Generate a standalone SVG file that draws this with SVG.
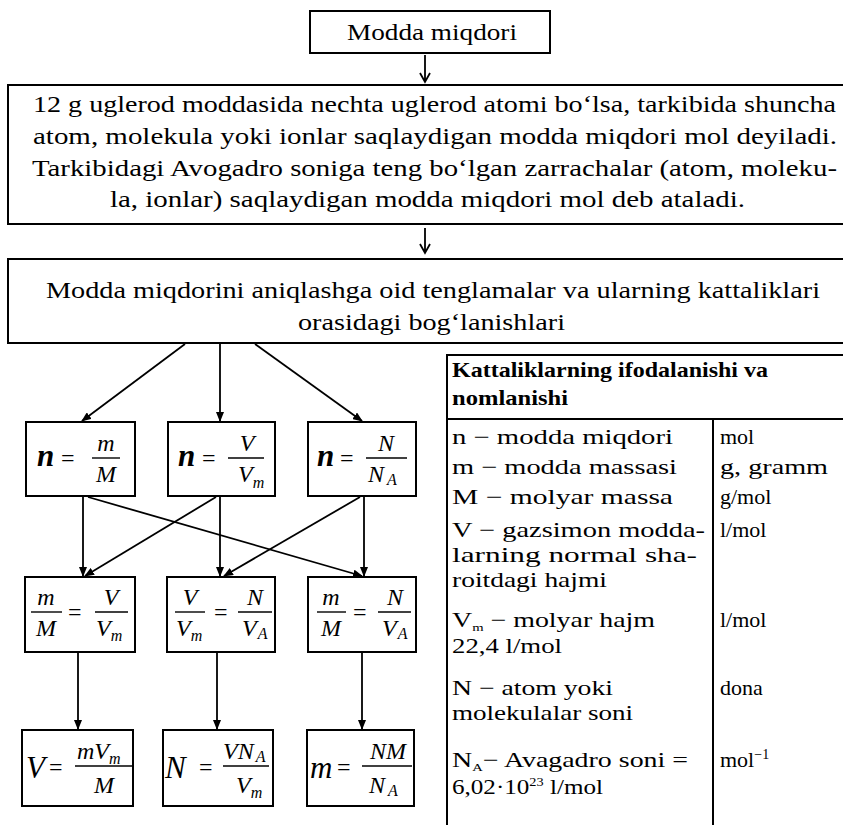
<svg xmlns="http://www.w3.org/2000/svg" width="843" height="825" viewBox="0 0 843 825">
<defs>
<marker id="ah" markerWidth="10" markerHeight="8" refX="9" refY="4" orient="auto" markerUnits="userSpaceOnUse"><path d="M0,0 L10,4 L0,8 Z" fill="#000"/></marker>
</defs>
<style>
.box{fill:#fff;stroke:#000;stroke-width:2}
.t{font-family:"Liberation Serif","Times New Roman",serif;font-size:23px;fill:#000}
.tt{font-family:"Liberation Serif","Times New Roman",serif;font-size:21px;fill:#000}
.tr{font-family:"Liberation Serif","Times New Roman",serif;font-size:22px;fill:#000}
.hb{font-weight:bold}
.f{font-family:"Liberation Serif","Times New Roman",serif;font-style:italic;font-size:24px;fill:#000}
.big{font-size:31px}
.eq{font-family:"Liberation Serif","Times New Roman",serif;font-size:24px;fill:#000}
.bar{stroke:#000;stroke-width:1.4}
.c{stroke:#000;stroke-width:1.8;fill:none}
.ca{stroke:#000;stroke-width:1.8;fill:none;marker-end:url(#ah)}
.m{text-anchor:middle}
.tl{stroke:#000;stroke-width:2;fill:none}
</style>
<rect width="843" height="825" fill="#fff"/>

<g id="top">
<rect class="box" x="310" y="11" width="240" height="42"/>
<text class="t" x="347" y="40" textLength="170" lengthAdjust="spacingAndGlyphs">Modda miqdori</text>
</g>

<g id="definition">
<rect class="box" x="8" y="85" width="845" height="139"/>
<text class="t" x="33" y="112" textLength="803" lengthAdjust="spacingAndGlyphs">12 g uglerod moddasida nechta uglerod atomi bo‘lsa, tarkibida shuncha</text>
<text class="t" x="33" y="144" textLength="804" lengthAdjust="spacingAndGlyphs">atom, molekula yoki ionlar saqlaydigan modda miqdori mol deyiladi.</text>
<text class="t" x="32" y="176" textLength="805" lengthAdjust="spacingAndGlyphs">Tarkibidagi Avogadro soniga teng bo‘lgan zarrachalar (atom, moleku-</text>
<text class="t" x="110" y="207" textLength="635" lengthAdjust="spacingAndGlyphs">la, ionlar) saqlaydigan modda miqdori mol deb ataladi.</text>
</g>

<g id="equations-title">
<rect class="box" x="8" y="259" width="845" height="84"/>
<text class="t" x="46" y="298" textLength="774" lengthAdjust="spacingAndGlyphs">Modda miqdorini aniqlashga oid tenglamalar va ularning kattaliklari</text>
<text class="t" x="298" y="330" textLength="267" lengthAdjust="spacingAndGlyphs">orasidagi bog‘lanishlari</text>
</g>

<g id="connectors">
<path class="c" d="M425,55 V82 M420,73 L425,82 L430,73"/>
<path class="c" d="M425,228 V253 M420,244 L425,253 L430,244"/>
<line class="ca" x1="185" y1="344" x2="82" y2="421"/>
<line class="ca" x1="220" y1="344" x2="220" y2="421"/>
<line class="ca" x1="255" y1="344" x2="362" y2="421"/>
<line class="ca" x1="83" y1="497" x2="83" y2="576"/>
<line class="ca" x1="88" y1="497" x2="362" y2="576"/>
<line class="ca" x1="216" y1="497" x2="85" y2="576"/>
<line class="ca" x1="220" y1="497" x2="220" y2="576"/>
<line class="ca" x1="360" y1="497" x2="224" y2="576"/>
<line class="ca" x1="364" y1="497" x2="364" y2="576"/>
<line class="ca" x1="78" y1="653" x2="78" y2="729"/>
<line class="ca" x1="217" y1="653" x2="217" y2="729"/>
<line class="ca" x1="362" y1="653" x2="362" y2="729"/>
</g>

<g id="eq-n-m">
<rect class="box" x="26" y="422" width="109" height="74"/>
<text class="f big hb" x="37" y="466">n</text>
<text class="eq" x="61" y="466">=</text>
<line class="bar" x1="92" y1="458" x2="120" y2="458"/>
<text class="f m" x="106" y="451">m</text>
<text class="f m" x="106" y="482">M</text>
</g>
<g id="eq-n-V">
<rect class="box" x="168" y="422" width="107" height="74"/>
<text class="f big hb" x="178" y="466">n</text>
<text class="eq" x="202" y="466">=</text>
<line class="bar" x1="228" y1="458" x2="264" y2="458"/>
<text class="f m" x="247" y="451">V</text>
<text class="f" x="238" y="482">V<tspan font-size="16" dy="6">m</tspan></text>
</g>
<g id="eq-n-N">
<rect class="box" x="308" y="422" width="108" height="74"/>
<text class="f big hb" x="317" y="466">n</text>
<text class="eq" x="340" y="466">=</text>
<line class="bar" x1="366" y1="458" x2="407" y2="458"/>
<text class="f m" x="386" y="451">N</text>
<text class="f" x="368" y="482">N<tspan font-size="16" dx="3" dy="3">A</tspan></text>
</g>

<g id="eq-mM-VVm">
<rect class="box" x="25" y="577" width="110" height="75"/>
<line class="bar" x1="31" y1="612" x2="62" y2="612"/>
<text class="f m" x="46" y="605">m</text>
<text class="f m" x="46" y="636">M</text>
<text class="eq" x="68" y="620" font-size="22">=</text>
<line class="bar" x1="95" y1="612" x2="128" y2="612"/>
<text class="f m" x="111" y="605">V</text>
<text class="f" x="96" y="636">V<tspan font-size="16" dy="5">m</tspan></text>
</g>
<g id="eq-VVm-NVA">
<rect class="box" x="167" y="577" width="108" height="75"/>
<line class="bar" x1="175" y1="612" x2="205" y2="612"/>
<text class="f m" x="190" y="605">V</text>
<text class="f" x="176" y="636">V<tspan font-size="16" dy="5">m</tspan></text>
<text class="eq" x="214" y="620" font-size="22">=</text>
<line class="bar" x1="238" y1="612" x2="272" y2="612"/>
<text class="f m" x="255" y="605">N</text>
<text class="f" x="242" y="636">V<tspan font-size="16" dx="1" dy="3">A</tspan></text>
</g>
<g id="eq-mM-NVA">
<rect class="box" x="308" y="577" width="108" height="75"/>
<line class="bar" x1="317" y1="612" x2="346" y2="612"/>
<text class="f m" x="331" y="605">m</text>
<text class="f m" x="331" y="636">M</text>
<text class="eq" x="353" y="620" font-size="22">=</text>
<line class="bar" x1="378" y1="612" x2="411" y2="612"/>
<text class="f m" x="395" y="605">N</text>
<text class="f" x="382" y="636">V<tspan font-size="16" dx="1" dy="3">A</tspan></text>
</g>

<g id="eq-V">
<rect class="box" x="22" y="730" width="111" height="76"/>
<text class="f big" x="26" y="778">V</text>
<text class="eq" x="49" y="775">=</text>
<line class="bar" x1="75" y1="766" x2="132" y2="766"/>
<text class="f" x="77" y="759">mV<tspan font-size="16" dy="5">m</tspan></text>
<text class="f m" x="104" y="793">M</text>
</g>
<g id="eq-N">
<rect class="box" x="163" y="730" width="110" height="76"/>
<text class="f big" x="165" y="778">N</text>
<text class="eq" x="199" y="775">=</text>
<line class="bar" x1="223" y1="766" x2="269" y2="766"/>
<text class="f" x="223" y="759">VN<tspan font-size="16" dx="2" dy="3">A</tspan></text>
<text class="f" x="236" y="793">V<tspan font-size="16" dy="5">m</tspan></text>
</g>
<g id="eq-m">
<rect class="box" x="307" y="730" width="107" height="76"/>
<text class="f big" x="310" y="778">m</text>
<text class="eq" x="337" y="775">=</text>
<line class="bar" x1="362" y1="766" x2="412" y2="766"/>
<text class="f m" x="388" y="759">NM</text>
<text class="f" x="369" y="793">N<tspan font-size="16" dx="3" dy="3">A</tspan></text>
</g>

<g id="table">
<rect class="tl" x="447" y="355" width="410" height="480"/>
<line class="tl" x1="447" y1="419" x2="843" y2="419"/>
<line class="tl" x1="713" y1="419" x2="713" y2="825"/>
<text class="tt hb" x="452" y="377" textLength="316" lengthAdjust="spacingAndGlyphs">Kattaliklarning ifodalanishi va</text>
<text class="tt hb" x="452" y="405" textLength="116" lengthAdjust="spacingAndGlyphs">nomlanishi</text>
<text class="tt" x="452" y="444" textLength="221" lengthAdjust="spacingAndGlyphs">n − modda miqdori</text>
<text class="tt" x="452" y="474" textLength="225" lengthAdjust="spacingAndGlyphs">m − modda massasi</text>
<text class="tt" x="452" y="504" textLength="221" lengthAdjust="spacingAndGlyphs">M − molyar massa</text>
<text class="tt" x="452" y="537" textLength="253" lengthAdjust="spacingAndGlyphs">V − gazsimon modda-</text>
<text class="tt" x="452" y="562" textLength="245" lengthAdjust="spacingAndGlyphs">larning normal sha-</text>
<text class="tt" x="452" y="587" textLength="155" lengthAdjust="spacingAndGlyphs">roitdagi  hajmi</text>
<text class="tt" x="452" y="627" textLength="203" lengthAdjust="spacingAndGlyphs">V<tspan font-size="11" dy="4">m</tspan><tspan dy="-4"> − molyar hajm</tspan></text>
<text class="tt" x="452" y="653" textLength="110" lengthAdjust="spacingAndGlyphs">22,4 l/mol</text>
<text class="tt" x="452" y="695" textLength="161" lengthAdjust="spacingAndGlyphs">N − atom yoki</text>
<text class="tt" x="452" y="720" textLength="181" lengthAdjust="spacingAndGlyphs">molekulalar  soni</text>
<text class="tt" x="452" y="767" textLength="236" lengthAdjust="spacingAndGlyphs">N<tspan font-size="11" dy="4">A</tspan><tspan dy="-4">− Avagadro soni =</tspan></text>
<text class="tt" x="452" y="794" textLength="151" lengthAdjust="spacingAndGlyphs">6,02·10<tspan font-size="12" dy="-8">23</tspan><tspan dy="8"> l/mol</tspan></text>
<text class="tr" x="720" y="444">mol</text>
<text class="tr" x="720" y="474" textLength="108" lengthAdjust="spacingAndGlyphs">g,  gramm</text>
<text class="tr" x="720" y="504">g/mol</text>
<text class="tr" x="720" y="537">l/mol</text>
<text class="tr" x="720" y="627">l/mol</text>
<text class="tr" x="720" y="695">dona</text>
<text class="tr" x="720" y="767">mol<tspan font-size="14" dy="-8">−1</tspan></text>
</g>
</svg>
